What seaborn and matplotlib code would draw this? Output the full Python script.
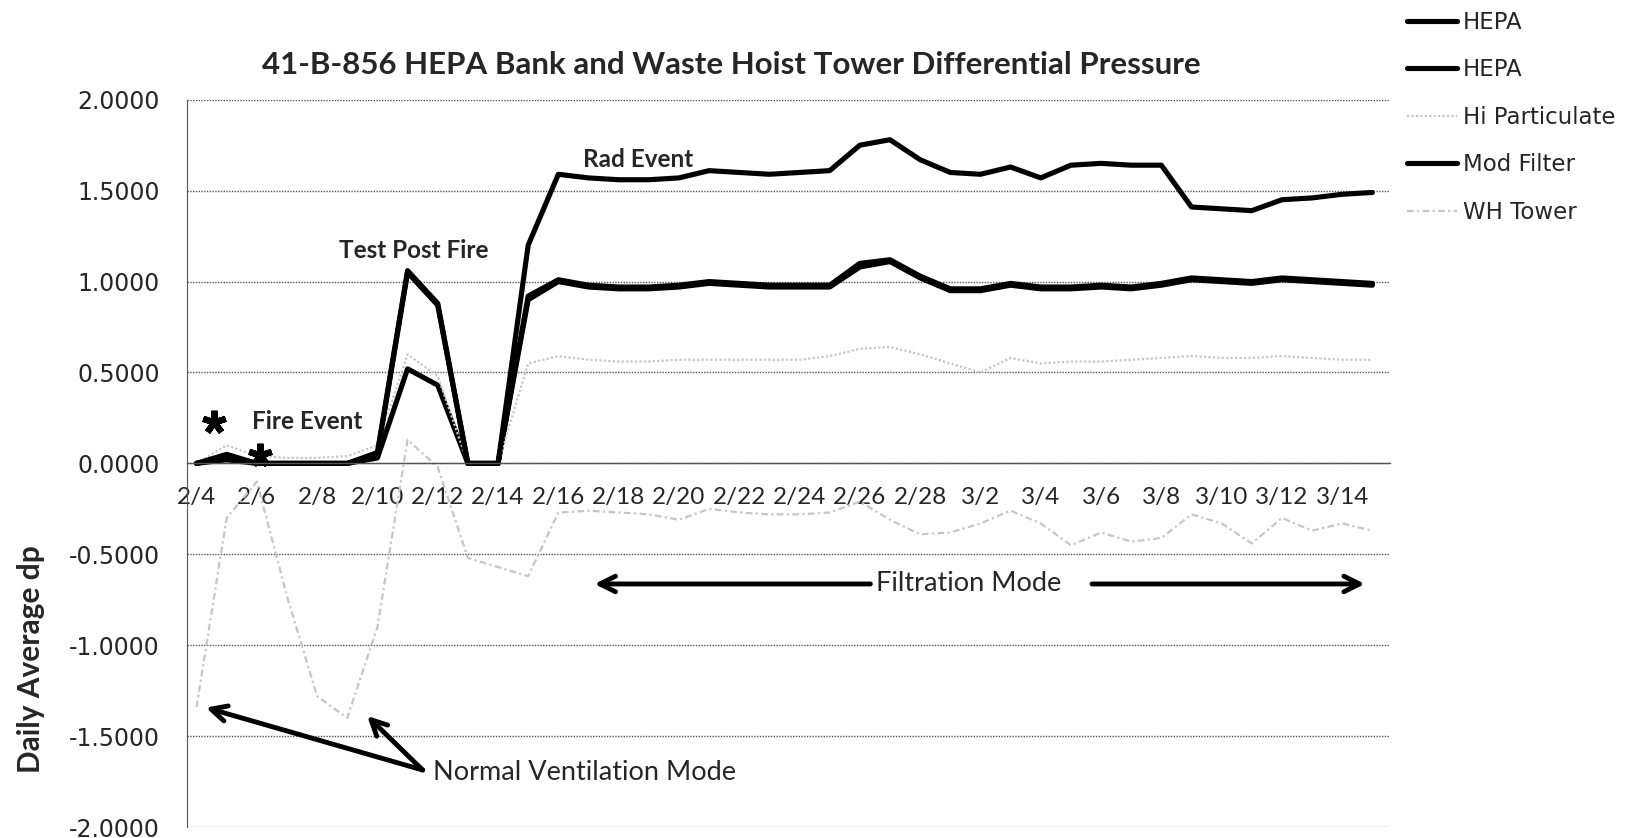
import seaborn as sns
import matplotlib.pyplot as plt
import pandas as pd
from matplotlib.lines import Line2D

# daily values, 2/4 .. 3/15
day_idx = list(range(40))
tick_pos = list(range(0, 40, 2))
tick_labels = ["2/4", "2/6", "2/8", "2/10", "2/12", "2/14", "2/16", "2/18", "2/20", "2/22",
               "2/24", "2/26", "2/28", "3/2", "3/4", "3/6", "3/8", "3/10", "3/12", "3/14"]

hepa_1 = [0.00, 0.04, 0.00, 0.00, 0.00, 0.00, 0.05, 1.05, 0.87, 0.00,
          0.00, 0.92, 1.01, 0.98, 0.97, 0.97, 0.98, 1.00, 0.99, 0.98,
          0.98, 0.98, 1.10, 1.12, 1.03, 0.96, 0.96, 0.99, 0.97, 0.97,
          0.98, 0.97, 0.99, 1.02, 1.01, 1.00, 1.02, 1.01, 1.00, 0.99]
hepa_2 = [0.00, 0.02, 0.00, 0.00, 0.00, 0.00, 0.03, 0.52, 0.43, 0.00,
          0.00, 0.90, 1.00, 0.97, 0.96, 0.96, 0.97, 0.99, 0.98, 0.97,
          0.97, 0.97, 1.08, 1.11, 1.02, 0.95, 0.95, 0.98, 0.96, 0.96,
          0.97, 0.96, 0.98, 1.01, 1.00, 0.99, 1.01, 1.00, 0.99, 0.98]
hi_particulate = [0.00, 0.10, 0.04, 0.03, 0.03, 0.04, 0.10, 0.60, 0.48, 0.00,
                  0.00, 0.55, 0.59, 0.57, 0.56, 0.56, 0.57, 0.57, 0.57, 0.57,
                  0.57, 0.59, 0.63, 0.64, 0.60, 0.55, 0.50, 0.58, 0.55, 0.56,
                  0.56, 0.57, 0.58, 0.59, 0.58, 0.58, 0.59, 0.58, 0.57, 0.57]
mod_filter = [0.00, 0.05, 0.00, 0.00, 0.00, 0.00, 0.06, 1.06, 0.88, 0.00,
              0.00, 1.20, 1.59, 1.57, 1.56, 1.56, 1.57, 1.61, 1.60, 1.59,
              1.60, 1.61, 1.75, 1.78, 1.67, 1.60, 1.59, 1.63, 1.57, 1.64,
              1.65, 1.64, 1.64, 1.41, 1.40, 1.39, 1.45, 1.46, 1.48, 1.49]
wh_tower = [-1.34, -0.30, -0.10, -0.73, -1.28, -1.40, -0.90, 0.13, -0.02, -0.52,
            -0.57, -0.62, -0.27, -0.26, -0.27, -0.28, -0.31, -0.25, -0.27, -0.28,
            -0.28, -0.27, -0.21, -0.31, -0.39, -0.38, -0.33, -0.26, -0.33, -0.45,
            -0.38, -0.43, -0.41, -0.28, -0.33, -0.44, -0.30, -0.37, -0.33, -0.37]

series_names = ["HEPA", "HEPA", "Hi Particulate", "Mod Filter", "WH Tower"]
series_values = [hepa_1, hepa_2, hi_particulate, mod_filter, wh_tower]
series_colors = ["black", "black", "#c6c6c6", "black", "#c6c6c6"]
series_styles = ["-", "-", (0, (1, 1)), "-", (0, (3, 1.5, 1, 1.5))]
series_widths = [3.7, 3.7, 1.6, 3.7, 1.6]

sns.set_style("white")
plt.rcParams["font.family"] = ["Lato", "DejaVu Sans"]

fig = plt.figure(figsize=(16.33, 8.38), dpi=100)
ax = fig.add_axes([0.1148, 0.013, 0.7367, 0.868])

handles = []
for name, vals, col, ls, lw in zip(series_names, series_values, series_colors,
                                   series_styles, series_widths):
    df = pd.DataFrame({"day": day_idx, "dp": vals})
    sns.lineplot(data=df, x="day", y="dp", ax=ax, color=col, linestyle=ls,
                 linewidth=lw, legend=False)
    handles.append(Line2D([], [], color=col, linestyle=ls, linewidth=lw))

ax.set_xlim(-0.3, 39.6)
ax.set_ylim(-2, 2)
ax.set_xlabel("")
ax.set_ylabel("")

# grid and spines
ax.set_yticks([-2, -1.5, -1, -0.5, 0, 0.5, 1, 1.5, 2])
ax.set_yticklabels([f"{v:.4f}" for v in ax.get_yticks()],
                   fontfamily="DejaVu Sans", fontsize=17)
ax.yaxis.grid(True, color="#555555", linestyle=(0, (1, 1)), linewidth=1)
ax.xaxis.grid(False)
for s in ["top", "right"]:
    ax.spines[s].set_visible(False)
ax.spines["left"].set_linestyle((0, (1, 1)))
ax.spines["left"].set_color("#555555")
ax.spines["bottom"].set_position(("data", 0))
ax.spines["bottom"].set_color("#555555")
ax.spines["bottom"].set_linewidth(1)
ax.tick_params(axis="y", length=0, pad=20)

ax.set_xticks(tick_pos)
ax.set_xticklabels(tick_labels, fontsize=17.5)
ax.set_xticks([p + 1.5 for p in tick_pos], minor=True)
ax.tick_params(axis="x", which="major", length=0, pad=17)
ax.tick_params(axis="x", which="minor", length=5, color="#555555", direction="out")

fig.text(0.448, 0.923, "41-B-856 HEPA Bank and Waste Hoist Tower Differential Pressure",
         ha="center", va="center", fontsize=22.5, fontweight="bold")
fig.text(0.019, 0.214, "Daily Average dp", rotation=90, ha="center", va="center",
         fontsize=21.5, fontweight="bold")

# annotations
ax.text(14.65, 1.674, "Rad Event", ha="center", va="center", fontsize=17.5, fontweight="bold")
ax.text(7.22, 1.17, "Test Post Fire", ha="center", va="center", fontsize=17.5, fontweight="bold")
ax.text(1.83, 0.229, "Fire Event", ha="left", va="center", fontsize=17.5, fontweight="bold")
star_x = [0.59, 2.1]
star_y = [0.229, 0.046]
ax.plot(star_x, star_y, linestyle="none", marker=(5, 2, 0), markersize=17,
        markeredgewidth=4.5, color="black")

arrow = dict(arrowstyle="->", color="black", lw=3.5, mutation_scale=28,
             shrinkA=0, shrinkB=0)
ax.text(25.6, -0.663, "Filtration Mode", ha="center", va="center", fontsize=19.5)
ax.annotate("", xy=(13.2, -0.663), xytext=(22.35, -0.663), arrowprops=arrow)
ax.annotate("", xy=(38.75, -0.663), xytext=(29.7, -0.663), arrowprops=arrow)

ax.text(7.85, -1.70, "Normal Ventilation Mode", ha="left", va="center", fontsize=19.5)
ax.annotate("", xy=(0.31, -1.343), xytext=(7.5, -1.686), arrowprops=arrow)
ax.annotate("", xy=(5.66, -1.389), xytext=(7.5, -1.686), arrowprops=arrow)

fig.legend(handles, series_names, loc="upper left",
           bbox_to_anchor=(0.856, 0.998), frameon=False, borderaxespad=0,
           prop={"family": "DejaVu Sans", "size": 16.5},
           handlelength=2.2, handletextpad=0.25, labelspacing=1.07)

plt.savefig("out.png", dpi=100)
plt.close()
